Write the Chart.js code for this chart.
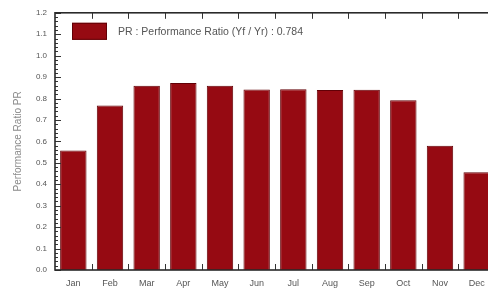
<!DOCTYPE html>
<html lang="en">
<head>
  <meta charset="UTF-8" />
  <title>Performance Ratio PR</title>
  <script src="https://cdn.jsdelivr.net/npm/chart.js"></script>
  <style>
    html, body { margin: 0; padding: 0; background: #fff; overflow: hidden; }
    #wrap { width: 500px; height: 291px; }
  </style>
</head>
<body>
  <div id="wrap"><canvas id="prChart" width="500" height="291"></canvas></div>

  <script>
    // monthly PR values
    const months = ['Jan', 'Feb', 'Mar', 'Apr', 'May', 'Jun', 'Jul', 'Aug', 'Sep', 'Oct', 'Nov', 'Dec'];
    const prValues = [0.558, 0.767, 0.860, 0.872, 0.860, 0.842, 0.843, 0.840, 0.841, 0.792, 0.580, 0.456];
    const yTicks = [0.0, 0.1, 0.2, 0.3, 0.4, 0.5, 0.6, 0.7, 0.8, 0.9, 1.0, 1.1, 1.2];
    const legendLabel = 'PR : Performance Ratio (Yf / Yr) : 0.784';

    // frame, inward ticks and the legend box inside the plot
    const frameTicks = {
      id: 'frameTicks',
      afterDraw(chart) {
        const { ctx, chartArea: a, scales } = chart;
        ctx.save();
        ctx.strokeStyle = '#333';
        ctx.lineWidth = 1;
        // minor ticks on the y axis
        for (let i = 0; i <= 60; i++) {
          const y = Math.round(scales.y.getPixelForValue(i * 0.02)) + 0.5;
          const len = i % 5 === 0 ? 6 : 3;
          ctx.beginPath();
          ctx.moveTo(a.left, y);
          ctx.lineTo(a.left + len, y);
          ctx.stroke();
        }
        // ticks at the month boundaries, top and bottom
        for (let i = 1; i < months.length; i++) {
          const x = Math.round((scales.x.getPixelForValue(i - 1) + scales.x.getPixelForValue(i)) / 2) + 0.5;
          ctx.beginPath();
          ctx.moveTo(x, a.top);
          ctx.lineTo(x, a.top + 6);
          ctx.moveTo(x, a.bottom);
          ctx.lineTo(x, a.bottom - 6);
          ctx.stroke();
        }
        ctx.lineWidth = 1.6;
        ctx.strokeStyle = '#2a2a2a';
        ctx.strokeRect(a.left, a.top, a.right - a.left, a.bottom - a.top);

        // legend
        const ds = chart.data.datasets[0];
        const bx = a.left + 17, by = a.top + 10;
        ctx.fillStyle = ds.backgroundColor;
        ctx.fillRect(bx, by, 35, 17);
        ctx.lineWidth = 1;
        ctx.strokeStyle = ds.borderColor;
        ctx.strokeRect(bx + 0.5, by + 0.5, 34, 16);
        ctx.fillStyle = '#555';
        ctx.font = '10.5px "Liberation Sans"';
        ctx.textBaseline = 'middle';
        ctx.fillText(ds.label, bx + 46, by + 9);
        ctx.restore();
      }
    };

    const ctx = document.getElementById('prChart').getContext('2d');

    new Chart(ctx, {
      type: 'bar',
      data: {
        labels: months,
        datasets: [{
          label: legendLabel,
          data: prValues,
          backgroundColor: '#960a12',
          borderColor: '#620006',
          borderWidth: 1,
          barPercentage: 0.72,
          categoryPercentage: 1.0
        }]
      },
      options: {
        responsive: false,
        animation: false,
        layout: { padding: { top: 11, right: 5, left: 0, bottom: 0 } },
        plugins: {
          tooltip: { enabled: false },
          legend: { display: false }
        },
        scales: {
          x: {
            grid: { display: false, drawTicks: false },
            border: { display: false },
            ticks: {
              color: '#555',
              padding: 8,
              maxRotation: 0,
              font: { family: 'Liberation Sans', size: 9 }
            },
            afterFit(scale) { scale.height = 21; }
          },
          y: {
            min: 0,
            max: 1.2,
            afterBuildTicks(scale) { scale.ticks = yTicks.map(v => ({ value: v })); },
            grid: { display: false, drawTicks: false },
            border: { display: false },
            ticks: {
              color: '#555',
              padding: 8,
              font: { family: 'Liberation Sans', size: 8 },
              callback: v => v.toFixed(1)
            },
            title: {
              display: true,
              text: 'Performance Ratio PR',
              color: '#8a8a8a',
              padding: { top: 12, bottom: 0 },
              font: { family: 'Liberation Sans', size: 10 }
            },
            afterFit(scale) { scale.width = 55; }
          }
        }
      },
      plugins: [frameTicks]
    });
  </script>
</body>
</html>
